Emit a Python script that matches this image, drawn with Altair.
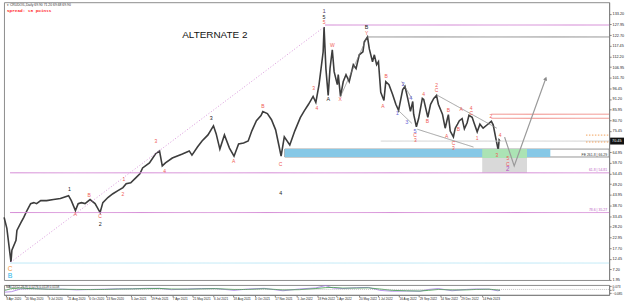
import altair as alt
import pandas as pd

# ---------------- price path (daily closes) ----------------
price_dates = [
    "2020-04-04", "2020-04-10", "2020-04-19", "2020-04-21", "2020-04-30", "2020-05-02", "2020-05-11",
    "2020-05-17", "2020-05-24", "2020-06-01", "2020-06-08", "2020-06-14", "2020-06-23", "2020-07-06",
    "2020-07-21", "2020-08-05", "2020-08-23", "2020-08-29", "2020-09-07", "2020-09-13", "2020-09-20",
    "2020-09-28", "2020-10-09", "2020-10-20", "2020-10-31", "2020-11-06", "2020-11-17", "2020-11-28",
    "2020-12-09", "2020-12-20", "2020-12-27", "2021-01-06", "2021-01-17", "2021-01-26", "2021-02-01",
    "2021-02-16", "2021-03-01", "2021-03-10", "2021-03-16", "2021-03-23", "2021-04-07", "2021-04-29",
    "2021-05-14", "2021-05-20", "2021-06-01", "2021-06-11", "2021-06-24", "2021-07-06", "2021-07-12",
    "2021-07-20", "2021-07-30", "2021-08-10", "2021-08-20", "2021-08-30", "2021-09-10", "2021-09-20",
    "2021-09-28", "2021-10-08", "2021-10-18", "2021-10-22", "2021-11-01", "2021-11-10", "2021-11-19",
    "2021-11-26", "2021-12-01", "2021-12-08", "2021-12-20", "2021-12-31", "2022-01-12", "2022-01-21",
    "2022-01-30", "2022-02-09", "2022-02-15", "2022-02-22", "2022-03-03", "2022-03-05", "2022-03-09",
    "2022-03-14", "2022-03-18", "2022-03-23", "2022-03-27", "2022-04-03", "2022-04-05", "2022-04-10",
    "2022-04-16", "2022-04-22", "2022-04-29", "2022-05-08", "2022-05-14", "2022-05-21", "2022-05-29",
    "2022-06-01", "2022-06-08", "2022-06-12", "2022-06-19", "2022-06-23", "2022-06-28", "2022-07-02",
    "2022-07-07", "2022-07-14", "2022-07-18", "2022-07-25", "2022-08-02", "2022-08-09", "2022-08-15",
    "2022-08-24", "2022-08-29", "2022-09-04", "2022-09-10", "2022-09-15", "2022-09-17", "2022-09-23",
    "2022-09-28", "2022-10-06", "2022-10-09", "2022-10-15", "2022-10-18", "2022-10-24", "2022-10-31",
    "2022-11-06", "2022-11-10", "2022-11-19", "2022-11-25", "2022-11-30", "2022-12-02", "2022-12-06",
    "2022-12-13", "2022-12-17", "2022-12-22", "2022-12-26", "2023-01-01", "2023-01-06", "2023-01-12",
    "2023-01-16", "2023-01-23", "2023-01-27", "2023-02-03", "2023-02-09", "2023-02-16", "2023-02-25",
    "2023-03-06", "2023-03-10", "2023-03-17", "2023-03-21", "2023-03-23", "2023-03-25",
]
price_values = [
    32.8, 27.4, 10.8, 16.6, 21.5, 26.4, 30.3,
    32.8, 36.2, 39.6, 40.1, 39.6, 41.1, 41.1,
    41.6, 42.1, 43.5, 41.1, 36.2, 39.6, 40.1,
    39.6, 41.6, 39.6, 35.2, 40.1, 42.6, 44.5,
    46.0, 47.5, 49.4, 49.9, 52.3, 54.3, 57.2,
    59.7, 64.1, 65.6, 58.2, 59.7, 62.1, 64.1,
    65.6, 63.5, 67.5, 70.5, 73.5, 78.0, 74.0,
    66.5, 73.5, 67.0, 63.0, 69.0, 69.5, 70.5,
    75.5, 80.5, 83.0, 85.0, 84.0, 81.0, 76.0,
    68.5, 63.0, 72.5, 68.5, 75.5, 82.0, 85.5,
    88.6, 92.5, 89.5, 98.3, 114.5, 126.7, 106.2,
    93.0, 106.2, 115.5, 104.7, 98.3, 103.2, 92.5,
    99.8, 103.2, 99.8, 108.1, 106.2, 113.0, 114.5,
    119.4, 121.8, 115.9, 109.6, 113.0, 108.1, 109.6,
    94.5, 90.5, 99.8, 98.3, 93.4, 88.6, 85.6,
    95.9, 97.4, 91.5, 85.1, 90.0, 83.7, 77.5,
    81.7, 91.5, 91.0, 85.1, 82.2, 88.6, 91.5,
    93.0, 88.6, 83.7, 76.8, 81.7, 83.5, 75.4,
    72.5, 76.8, 78.8, 80.5, 81.5, 76.5, 79.5,
    83.2, 82.2, 79.5, 75.0, 78.8, 76.8, 78.5,
    80.2, 78.5, 70.45, 66.0, 71.0, 70.45,
]

# ---------------- MACD sub-window ----------------
macd_dates = [
    "2020-04-06", "2020-04-20", "2020-05-10", "2020-06-10", "2020-07-10", "2020-08-10", "2020-09-10",
    "2020-10-10", "2020-11-10", "2020-12-10", "2021-01-10", "2021-02-10", "2021-03-10", "2021-04-05",
    "2021-05-10", "2021-06-10", "2021-07-10", "2021-08-20", "2021-09-20", "2021-10-25", "2021-12-05",
    "2022-01-10", "2022-02-15", "2022-03-08", "2022-03-25", "2022-04-15", "2022-05-15", "2022-06-10",
    "2022-07-05", "2022-08-01", "2022-09-01", "2022-10-01", "2022-10-20", "2022-11-10", "2022-12-10",
    "2023-01-10", "2023-02-01", "2023-03-01", "2023-03-20", "2023-03-25",
]
macd_main = [
    -0.06, -0.05, 0.01, 0.02, 0.005, 0.005, -0.01,
    0.0, 0.005, 0.015, 0.015, 0.025, 0.025, -0.005,
    0.01, 0.02, 0.02, -0.02, 0.01, 0.025, -0.03,
    0.01, 0.035, 0.085, 0.03, 0.02, 0.04, 0.045,
    -0.02, -0.04, -0.035, -0.04, 0.0, 0.02, -0.03,
    0.0, 0.01, 0.005, -0.03, -0.02,
]
macd_signal = [
    -0.02, 0.02, 0.03, 0.015, 0.005, 0.003, 0.0,
    -0.003, 0.0, 0.008, 0.012, 0.018, 0.022, 0.01,
    0.005, 0.012, 0.018, 0.0, 0.0, 0.015, -0.01,
    -0.005, 0.02, 0.04, 0.045, 0.03, 0.03, 0.035,
    0.01, -0.02, -0.03, -0.035, -0.02, 0.0, -0.01,
    -0.01, 0.0, 0.005, -0.01, -0.015,
]

# ---------------- wave labels ----------------
label_dates = [
    "2020-08-25", "2020-09-07", "2020-10-07", "2020-10-31", "2020-10-31", "2020-12-22", "2020-12-20",
    "2021-03-02", "2021-03-21", "2021-07-01", "2021-08-19", "2021-10-22", "2021-11-30", "2021-11-30",
    "2022-02-10", "2022-02-17", "2022-03-05", "2022-03-05", "2022-03-05", "2022-03-14", "2022-03-23",
    "2022-04-09", "2022-06-06", "2022-06-06", "2022-07-12", "2022-07-19",
    "2022-08-12", "2022-08-25", "2022-09-02", "2022-09-11", "2022-09-20",
    "2022-09-20", "2022-09-21", "2022-10-09", "2022-10-17", "2022-11-06", "2022-11-06",
    "2022-11-28", "2022-12-02", "2022-12-13", "2022-12-13", "2022-12-24", "2022-12-30",
    "2023-01-21", "2023-01-21", "2023-02-03", "2023-03-05", "2023-03-18", "2023-03-25",
    "2023-04-11", "2023-04-11", "2023-04-11", "2020-04-17", "2020-04-17",
]
label_prices = [
    47.0, 34.7, 44.0, 33.3, 29.6, 51.9, 44.5,
    70.4, 55.8, 81.7, 60.7, 87.6, 59.2, 45.0,
    96.4, 86.6, 134.5, 131.6, 129.2, 91.0, 117.9,
    91.0, 126.7, 123.8, 87.6, 102.7,
    84.2, 98.8, 79.7, 91.5, 75.6,
    73.3, 71.0, 93.9, 80.2, 97.9, 95.4,
    72.9, 85.6, 69.5, 67.0, 76.3, 86.1,
    86.8, 84.5, 71.9, 82.7, 63.6, 73.4,
    61.9, 59.2, 56.5, 7.3, 3.9,
]
label_texts = [
    "1", "A", "B", "C", "2", "1", "2",
    "3", "4", "3", "A", "B", "C", "4",
    "3", "4", "1", "5", "5", "A", "W",
    "X", "B", "Y", "A", "B",
    "1", "2", "3", "4", "5",
    "C", "3", "4", "B", "2", "C",
    "A", "B", "C", "3", "B", "A",
    "4", "C", "1", "2", "3", "4",
    "5", "C", "2", "C", "B",
]
label_groups = [
    "black", "red", "red", "red", "black", "red", "red",
    "red", "red", "black", "red", "red", "red", "black",
    "red", "red", "dkpurple", "black", "red", "black", "red",
    "red", "black", "red", "red", "red",
    "blue", "blue", "blue", "blue", "blue",
    "red", "red", "red", "red", "red", "red",
    "red", "red", "red", "red", "red", "red",
    "red", "red", "red", "red", "red", "red",
    "red", "red", "purple", "orange", "cyan",
]

# ---------------- horizontal levels ----------------
END = "2023-11-18T16:00:00"
level_starts = ["2022-03-07", "2022-06-08", "2020-04-17", "2020-04-17", "2020-04-17",
                "2023-03-06", "2023-03-06", "2022-07-07", "2023-09-29", "2023-09-29"]
level_prices = [127.7, 121.8, 54.8, 35.2, 10.3, 83.7, 81.7, 70.45, 73.4, 70.0]
level_groups = ["magenta", "grey", "magenta", "magenta", "cyan", "salmon", "salmon",
                "lightgrey", "orange", "orange"]

# ---------------- zones ----------------
box_start, box_low, box_high = "2021-12-09", 62.6, 66.5
zone_starts = ["2021-12-09", "2023-02-14", "2023-02-14"]
zone_ends = ["2023-07-13", "2023-05-23", "2023-05-23"]
zone_lows = [62.6, 62.1, 54.8]
zone_highs = [66.5, 66.5, 62.1]
zone_groups = ["blue", "green", "grey"]

# ---------------- trend lines ----------------
seg_starts = ["2020-04-19", "2022-04-10", "2022-08-12", "2022-08-22", "2022-11-05", "2022-09-25"]
seg_ends = ["2022-03-05", "2022-06-06", "2022-09-13", "2022-09-13", "2023-03-18", "2023-01-26"]
seg_p1 = [10.8, 92.5, 86.1, 99.8, 93.4, 76.3]
seg_p2 = [126.7, 121.0, 79.2, 91.5, 76.8, 67.5]
seg_groups = ["dotted", "thin", "thin", "thin", "thin", "thin"]

proj_dates = ["2023-04-04", "2023-04-25", "2023-07-03"]
proj_prices = [72.4, 58.2, 101.3]

price_ticks = [1.95, 7.20, 12.45, 17.70, 22.95, 28.20, 33.45, 38.70, 43.95, 49.20, 54.45, 59.70,
               64.95, 75.45, 80.70, 85.95, 91.20, 96.45, 101.70, 106.95, 112.20, 117.45,
               122.70, 127.95, 133.20]
time_ticks = ["2020-04-08", "2020-05-20", "2020-07-09", "2020-08-21", "2020-10-06", "2020-11-13",
              "2021-01-06", "2021-02-19", "2021-04-07", "2021-05-21", "2021-07-06", "2021-08-18",
              "2021-10-04", "2021-11-17", "2022-01-05", "2022-02-18", "2022-04-01", "2022-05-20",
              "2022-07-01", "2022-08-16", "2022-09-29", "2022-11-14", "2022-12-29", "2023-02-14"]
macd_ticks = [-0.085, 0.0, 0.073]

header_text = "▾ CRUDOIL,Daily  69.90 71.20 69.68 69.90"
spread_text = "Spread: 18 points"
title_text = "ALTERNATE 2"
macd_text = "MACD(12,26,9) 0.0276 0.0118 0.0158"
fib_texts = ["61.8 | 54.81", "78.6 | 35.27", "FE 261.8 | 66.29"]
fib_prices = [56.0, 36.4, 63.7]
last_price = 70.45

# ---------------------------------------------------------------
FONT = "Liberation Sans"
W, H_MAIN, H_MACD = 610, 280, 10


def dt(s):
    y, m, d = s.split("-")
    return alt.DateTime(year=int(y), month=int(m), date=int(d))


xdom = alt.Scale(domain=[alt.DateTime(year=2020, month=4, date=3, hours=16),
                         alt.DateTime(year=2023, month=11, date=18, hours=16)])
yscale = alt.Scale(domain=[1.95, 138.95], nice=False, zero=False)
YAXIS = alt.Axis(orient="right", values=price_ticks, format=".2f", labelFontSize=3.8, labelFont=FONT,
                 tickSize=2, labelPadding=1, title=None, grid=False, domainColor="#808080",
                 labelOverlap=False, tickColor="#808080", labelColor="#222222")


def yq(field):
    return alt.Y(field, scale=yscale, axis=YAXIS)


price_df = pd.DataFrame({"date": pd.to_datetime(price_dates), "price": price_values})
lab_df = pd.DataFrame({"date": pd.to_datetime(label_dates), "price": label_prices,
                       "t": label_texts, "grp": label_groups})
lvl_df = pd.DataFrame({"d1": pd.to_datetime(level_starts), "d2": pd.to_datetime([END] * len(level_starts)),
                       "p": level_prices, "grp": level_groups})
zone_df = pd.DataFrame({"d1": pd.to_datetime(zone_starts), "d2": pd.to_datetime(zone_ends),
                        "lo": zone_lows, "hi": zone_highs, "grp": zone_groups})
box_df = pd.DataFrame({"d1": pd.to_datetime([box_start]), "d2": pd.to_datetime([END]),
                       "lo": [box_low], "hi": [box_high]})
seg_df = pd.DataFrame({"d1": pd.to_datetime(seg_starts), "d2": pd.to_datetime(seg_ends),
                       "p1": seg_p1, "p2": seg_p2, "grp": seg_groups})
proj_df = pd.DataFrame({"date": pd.to_datetime(proj_dates), "price": proj_prices,
                        "o": list(range(len(proj_dates)))})
fib_df = pd.DataFrame({"date": pd.to_datetime([END] * 3), "price": fib_prices, "t": fib_texts,
                       "grp": ["fib", "fib", "fe"]})

X = alt.X("date:T", scale=xdom, axis=None)
XD = alt.X("d1:T", scale=xdom, axis=None)

box = alt.Chart(box_df).mark_rect(fill="white", stroke="#7a7a7a", strokeWidth=0.8).encode(
    x=XD, x2="d2:T", y=yq("lo:Q"), y2="hi:Q")
zones = alt.Chart(zone_df).mark_rect().encode(
    x=XD, x2="d2:T", y=yq("lo:Q"), y2="hi:Q",
    color=alt.Color("grp:N", scale=alt.Scale(domain=["blue", "green", "grey"],
                                             range=["#86c8e6", "#abe3b4", "#d9d9d9"]), legend=None))

lvl_domain = ["magenta", "grey", "cyan", "salmon", "lightgrey", "orange"]
levels = alt.Chart(lvl_df).mark_rule().encode(
    x=XD, x2="d2:T", y=yq("p:Q"),
    color=alt.Color("grp:N", scale=alt.Scale(domain=lvl_domain,
                    range=["#d48ad6", "#8a8a8a", "#bde9f7", "#f08a84", "#cfcfcf", "#f2a15a"]), legend=None),
    strokeWidth=alt.StrokeWidth("grp:N", scale=alt.Scale(domain=lvl_domain, range=[1, 1, 2, 1, 0.8, 0.8]),
                                legend=None),
    strokeDash=alt.StrokeDash("grp:N", scale=alt.Scale(domain=lvl_domain,
                              range=[[1, 0], [1, 0], [1, 0], [1, 0], [1, 0], [1.5, 1.5]]), legend=None))

segs = alt.Chart(seg_df).mark_rule().encode(
    x=XD, x2="d2:T", y=yq("p1:Q"), y2="p2:Q",
    color=alt.Color("grp:N", scale=alt.Scale(domain=["dotted", "thin"], range=["#d48ad6", "#7d7d7d"]),
                    legend=None),
    strokeWidth=alt.StrokeWidth("grp:N", scale=alt.Scale(domain=["dotted", "thin"], range=[0.9, 0.7]),
                                legend=None),
    strokeDash=alt.StrokeDash("grp:N", scale=alt.Scale(domain=["dotted", "thin"], range=[[1, 2], [1, 0]]),
                              legend=None))

proj = alt.Chart(proj_df).mark_line(color="#9a9a9a", strokeWidth=1.2).encode(
    x=X, y=yq("price:Q"), order="o:Q")
arrow = alt.Chart(proj_df).transform_filter("datum.o == 2").mark_point(
    shape="triangle-up", filled=True, color="#8a8a8a", size=18, angle=20, opacity=1).encode(
    x=X, y=yq("price:Q"))

price = alt.Chart(price_df).mark_line(color="#3d3d3d", strokeWidth=1.6).encode(x=X, y=yq("price:Q"))

grp_dom = ["red", "black", "blue", "dkpurple", "purple", "orange", "cyan"]
labels = alt.Chart(lab_df).mark_text(font=FONT, baseline="middle", align="center").encode(
    x=X, y=yq("price:Q"), text="t:N",
    color=alt.Color("grp:N", scale=alt.Scale(domain=grp_dom,
                    range=["#ef5b55", "#1a1a1a", "#6a6ad8", "#5a3f6e", "#b448c4", "#f39a3c", "#27b4e8"]),
                    legend=None),
    size=alt.Size("grp:N", scale=alt.Scale(domain=grp_dom, range=[5, 7, 5, 6.5, 5, 8, 8]), legend=None))

title_df = pd.DataFrame({"date": pd.to_datetime(["2021-07-09"]), "price": [122.8], "t": [title_text]})
title = alt.Chart(title_df).mark_text(font=FONT, fontSize=10, color="#111111").encode(
    x=X, y=yq("price:Q"), text="t:N")

fibs = alt.Chart(fib_df).mark_text(font=FONT, fontSize=3.5, align="right", dx=-2).encode(
    x=X, y=yq("price:Q"), text="t:N",
    color=alt.Color("grp:N", scale=alt.Scale(domain=["fib", "fe"], range=["#b85cc0", "#333333"]), legend=None))

hdr_df = pd.DataFrame({"a": [header_text], "b": [spread_text]})
hdr = alt.Chart(hdr_df).mark_text(font=FONT, fontSize=3.4, align="left", baseline="middle",
                                  color="#333333").encode(x=alt.value(3), y=alt.value(3), text="a:N")
spread = alt.Chart(hdr_df).mark_text(font="Liberation Mono", fontSize=4.4, fontWeight="bold", align="left",
                                     baseline="middle", color="#ff2a2a").encode(
    x=alt.value(3), y=alt.value(8.5), text="b:N")

last_df = pd.DataFrame({"price": [last_price]})
last_box = alt.Chart(last_df).transform_calculate(lo="datum.price - 1.7", hi="datum.price + 1.7").mark_rect(
    color="#111111").encode(x=alt.value(W + 1), x2=alt.value(W + 15), y=yq("lo:Q"), y2="hi:Q")
last_txt = alt.Chart(last_df).mark_text(font=FONT, fontSize=3.8, color="white", align="left",
                                        baseline="middle").encode(
    x=alt.value(W + 3), y=yq("price:Q"), text=alt.Text("price:Q", format=".2f"))

main = alt.layer(price, box, zones, levels, segs, proj, arrow, labels, title, fibs, hdr, spread,
                 last_box, last_txt).resolve_scale(
    color="independent", size="independent", strokeWidth="independent", strokeDash="independent"
).properties(width=W, height=H_MAIN)

# ---------------- MACD panel ----------------
macd_df = pd.DataFrame({"date": pd.to_datetime(macd_dates * 2),
                        "v": macd_main + macd_signal,
                        "s": ["main"] * len(macd_dates) + ["signal"] * len(macd_dates)})
mscale = alt.Scale(domain=[-0.12, 0.1], nice=False, zero=False)
MAXIS = alt.Axis(orient="right", values=macd_ticks, format=".3~f", labelFontSize=3.2, labelFont=FONT,
                 tickSize=2, labelPadding=1, title=None, grid=False, domainColor="#808080",
                 tickColor="#808080", labelColor="#222222", labelOverlap=False)
XB = alt.X("date:T", scale=xdom, axis=alt.Axis(
    values=[dt(t) for t in time_ticks], format="%-d %b %Y", labelFontSize=3.1, labelFont=FONT,
    labelAlign="left", labelBaseline="top", labelPadding=0.5, tickSize=2, title=None, grid=False,
    domainColor="#808080", tickColor="#808080", labelColor="#222222", labelOverlap=False,
    labelFlush=False))
macd_lines = alt.Chart(macd_df).mark_line(strokeWidth=0.8).encode(
    x=XB, y=alt.Y("v:Q", scale=mscale, axis=MAXIS),
    color=alt.Color("s:N", scale=alt.Scale(domain=["main", "signal"], range=["#a77be6", "#3e9a4a"]),
                    legend=None))
zero_df = pd.DataFrame({"v": [0.0]})
zero = alt.Chart(zero_df).mark_rule(color="#9a9a9a", strokeDash=[1, 1], strokeWidth=0.6).encode(
    y=alt.Y("v:Q", scale=mscale, axis=MAXIS))
mlab = alt.Chart(pd.DataFrame({"t": [macd_text]})).mark_text(
    font=FONT, fontSize=3.2, align="left", baseline="top", color="#333333").encode(
    x=alt.value(2), y=alt.value(0.5), text="t:N")
macd = alt.layer(macd_lines, zero, mlab).properties(width=W, height=H_MACD)

chart = alt.vconcat(main, macd, spacing=0).configure(padding=0, background="white").configure_view(
    stroke="#8c8c8c", strokeWidth=1).configure_concat(spacing=0)

chart.save("out.html", embed_options={"renderer": "svg", "actions": False})
